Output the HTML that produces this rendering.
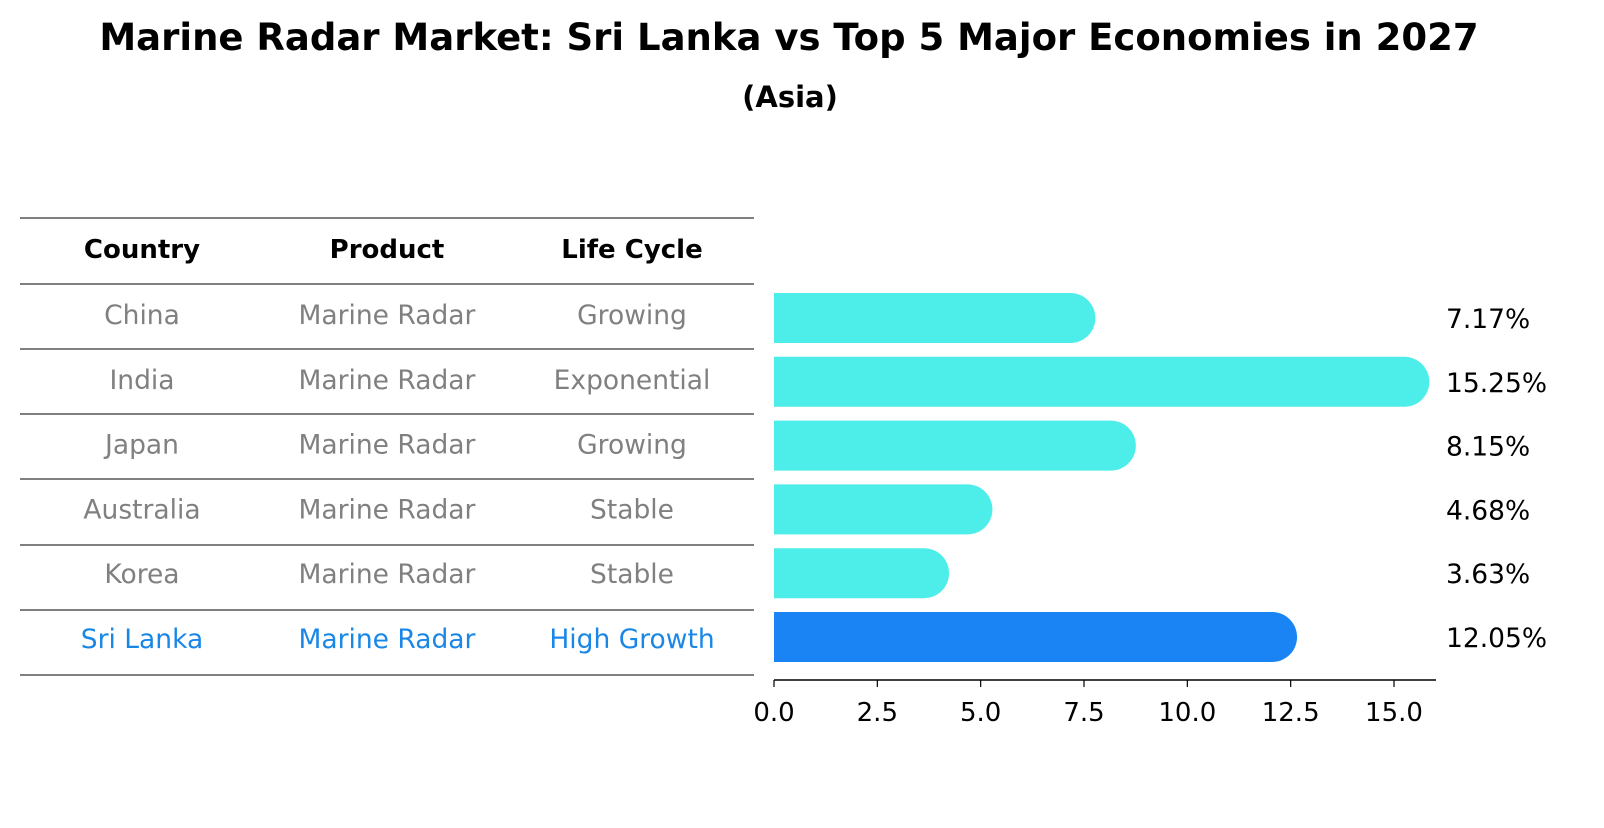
<!DOCTYPE html>
<html><head><meta charset="utf-8"><style>
body{margin:0;background:#fff;font-family:"Liberation Sans","DejaVu Sans",sans-serif;}
svg text{font-family:"DejaVu Sans","Liberation Sans",sans-serif;}
</style></head><body>
<svg id="c" width="1604" height="823" xmlns="http://www.w3.org/2000/svg">
<text x="789" y="50" text-anchor="middle" font-size="37" font-weight="bold">Marine Radar Market: Sri Lanka vs Top 5 Major Economies in 2027</text>
<text x="790" y="107" text-anchor="middle" font-size="29" font-weight="bold">(Asia)</text>
<g id="tbl"></g>
<g id="bars"></g>
</svg>
<script>
const countries=["China","India","Japan","Australia","Korea","Sri Lanka"];
const products=["Marine Radar","Marine Radar","Marine Radar","Marine Radar","Marine Radar","Marine Radar"];
const lifeCycles=["Growing","Exponential","Growing","Stable","Stable","High Growth"];
const values=[7.17,15.25,8.15,4.68,3.63,12.05];
const ticks=[0,2.5,5,7.5,10,12.5,15];
const NS="http://www.w3.org/2000/svg";
function mk(p,t,a){const e=document.createElementNS(NS,t);for(const k in a)e.setAttribute(k,a[k]);p.appendChild(e);return e;}
const tbl=document.getElementById('tbl'),bars=document.getElementById('bars');
const rowY=i=>315+i*64.8;
const lineYs=[218,284,349,414,479,545,610,675];
lineYs.forEach((y,i)=>{const l=mk(tbl,'line',{x1:20,x2:754,y1:y,y2:y,stroke:'#000','stroke-width':1});

});
const cx=[142,387,632];
["Country","Product","Life Cycle"].forEach((h,j)=>{const t=mk(tbl,'text',{x:cx[j],y:258,'text-anchor':'middle','font-size':26,'font-weight':'bold'});t.textContent=h;

});
countries.forEach((c,i)=>{const col=i===5?'#1a87e6':'#808080';
[c,products[i],lifeCycles[i]].forEach((v,j)=>{const t=mk(tbl,'text',{x:cx[j],y:rowY(i)+9,'text-anchor':'middle','font-size':26.5,fill:col});t.textContent=v;

});});
const X0=774,S=(1394-774)/15;
const xs=v=>X0+v*S;
const barY=i=>318+i*63.8;
values.forEach((v,i)=>{const y=barY(i),h=50,r=25,col=i===5?'#1a84f5':'#4deeea';
const x1=xs(v);
const p=mk(bars,'path',{d:`M${X0},${y-h/2} H${x1} A${r},${r} 0 0 1 ${x1},${y+h/2} H${X0} Z`,fill:col});


const t=mk(bars,'text',{x:1446,y:y+10,'font-size':26.5});t.textContent=v.toFixed(2)+'%';

});
const ax=mk(bars,'line',{x1:X0,x2:1436,y1:680,y2:680,stroke:'#000','stroke-width':1.5});


ticks.forEach(t=>{const x=xs(t);
const tk=mk(bars,'line',{x1:x,x2:x,y1:680,y2:687,stroke:'#000','stroke-width':1.2});


const tl=mk(bars,'text',{x:x,y:721,'text-anchor':'middle','font-size':26});tl.textContent=t.toFixed(1);

});
</script>
</body></html>
